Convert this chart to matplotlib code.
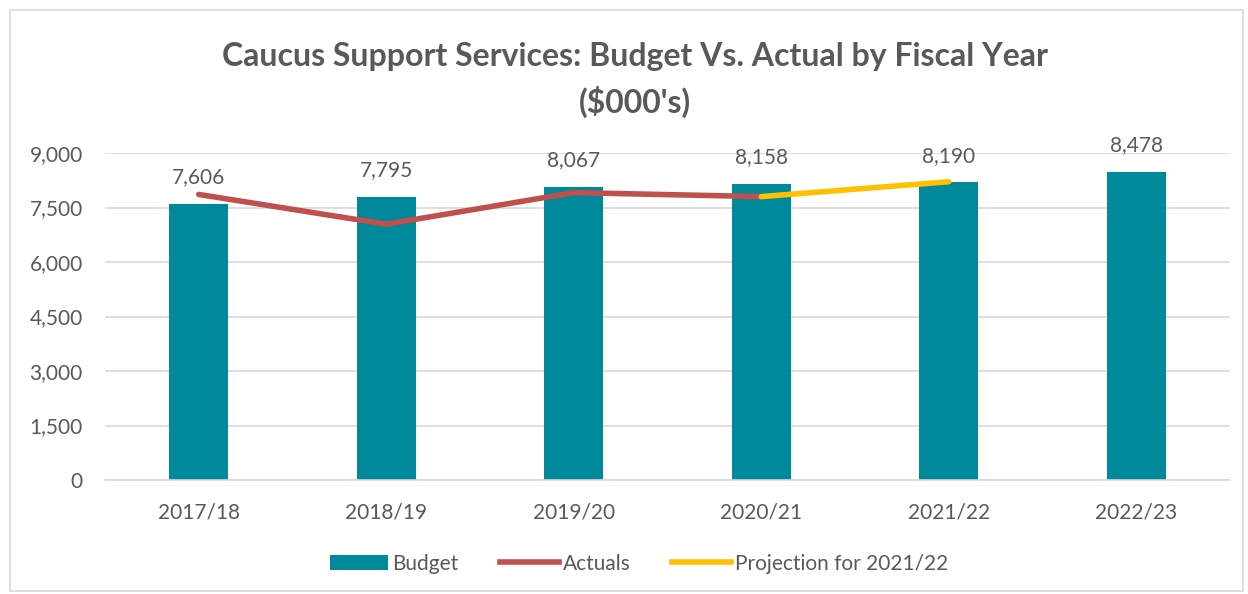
import numpy as np
import matplotlib
matplotlib.use('Agg')
import matplotlib.pyplot as plt
from matplotlib.patches import Rectangle, Patch
from matplotlib.lines import Line2D

# Data
years = ['2017/18', '2018/19', '2019/20', '2020/21', '2021/22', '2022/23']
budget = [7606, 7795, 8067, 8158, 8190, 8478]
actual_years = ['2017/18', '2018/19', '2019/20', '2020/21']
actuals = [7860, 7040, 7910, 7800]
projection_years = ['2020/21', '2021/22']
projection = [7800, 8210]
y_ticks = [0, 1500, 3000, 4500, 6000, 7500, 9000]

text_color = '#595959'
plt.rcParams['font.family'] = ['Lato', 'DejaVu Sans']

fig = plt.figure(figsize=(12.48, 5.94), dpi=100)
ax = fig.add_axes([0.0841, 0.1919, 0.9015, 0.5505])

x = np.arange(len(years))
ax.bar(x, budget, width=0.315, color='#00899A', zorder=2)

xa = [years.index(y) for y in actual_years]
ax.plot(xa, actuals, color='#C0504D', linewidth=4, solid_capstyle='round', zorder=3)
xp = [years.index(y) for y in projection_years]
ax.plot(xp, projection, color='#FFC000', linewidth=4, solid_capstyle='round', zorder=3)

# data labels above the budget bars
for xi, v in zip(x, budget):
    ax.annotate(f'{v:,}', (xi, v), xytext=(0, 12), textcoords='offset points',
                ha='center', va='bottom', fontsize=15, color=text_color)

ax.set_xlim(-0.5, len(years) - 0.5)
ax.set_ylim(0, 9000)
ax.set_yticks(y_ticks)
ax.set_yticklabels([f'{t:,}' for t in y_ticks])
ax.set_xticks(x)
ax.set_xticklabels(years)
ax.tick_params(axis='both', length=0, labelsize=15, labelcolor=text_color)
ax.tick_params(axis='y', pad=16)
ax.tick_params(axis='x', pad=16)
ax.yaxis.grid(True, color='#D9D9D9', linewidth=1.2, zorder=0)
ax.set_axisbelow(True)
for s in ['top', 'right', 'left']:
    ax.spines[s].set_visible(False)
ax.spines['bottom'].set_color('#D9D9D9')
ax.spines['bottom'].set_linewidth(1.2)

fig.text(0.509, 0.905, "Caucus Support Services: Budget Vs. Actual by Fiscal Year",
         ha='center', va='center', fontsize=23, fontweight='bold', color=text_color)
fig.text(0.509, 0.828, "($000's)", ha='center', va='center', fontsize=23,
         fontweight='bold', color=text_color)

handles = [Patch(facecolor='#00899A', label='Budget'),
           Line2D([0], [0], color='#C0504D', linewidth=4, label='Actuals'),
           Line2D([0], [0], color='#FFC000', linewidth=4, label='Projection for 2021/22')]
fig.legend(handles=handles, loc='center', bbox_to_anchor=(0.512, 0.051), ncol=3,
           frameon=False, fontsize=15, labelcolor=text_color, handlelength=2.8,
           handletextpad=0.2, columnspacing=2.0)

# outer chart border
fig.patches.append(Rectangle((0.008, 0.005), 0.988, 0.978, transform=fig.transFigure,
                             fill=False, edgecolor='#D9D9D9', linewidth=1.2))

fig.savefig('out.png', dpi=100)
